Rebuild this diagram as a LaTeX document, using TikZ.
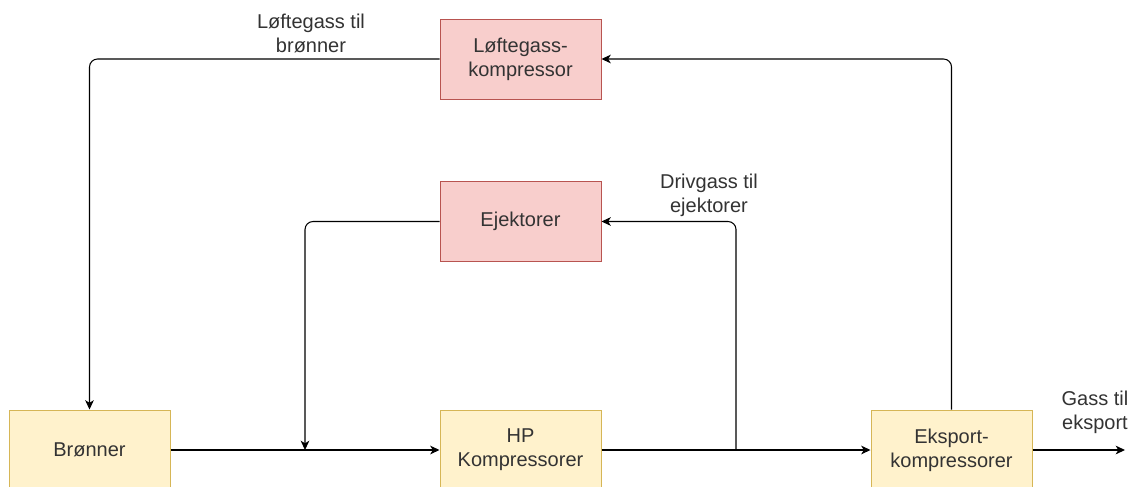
\documentclass[tikz,border=0pt]{standalone}
\usepackage{fontspec}
\setmainfont{Liberation Sans}
\usetikzlibrary{arrows.meta}
\definecolor{yfill}{HTML}{FFF2CC}
\definecolor{ystroke}{HTML}{D6B656}
\definecolor{rfill}{HTML}{F8CECC}
\definecolor{rstroke}{HTML}{B85450}
\definecolor{txt}{HTML}{333333}
\tikzset{
  box/.style={draw, line width=0.75pt, minimum width=120.75pt, minimum height=60pt,
    inner sep=0pt, align=center, text=txt,
    font=\fontsize{15pt}{18pt}\selectfont},
  ybox/.style={box, fill=yfill, draw=ystroke},
  rbox/.style={box, fill=rfill, draw=rstroke},
  lbl/.style={align=center, text=txt, inner sep=0pt,
    font=\fontsize{15pt}{18pt}\selectfont},
  arr/.style={draw=black, line width=0.8pt, rounded corners=6pt,
    -{Stealth[length=7pt,width=6.5pt,inset=2pt]}},
  ln/.style={draw=black, line width=0.8pt, rounded corners=6pt}
}
\begin{document}
\begin{tikzpicture}[x=0.75pt,y=-0.75pt]
\useasboundingbox[fill=white] (0,0) rectangle (1131,486);
\node[rbox] (lk) at (520.5,59) {Løftegass-\\kompressor};
\node[rbox] (ej) at (520.5,221.5) {Ejektorer};
\node[ybox] (br) at (89.5,450) {Brønner};
\node[ybox] (hp) at (520.5,450) {HP\\Kompressorer};
\node[ybox] (ek) at (951.5,450) {Eksport-\\kompressorer};
\coordinate (j1) at (305,450);
\coordinate (j2) at (736,450);
\coordinate (out) at (1125,450);
\draw[arr] (br.east) -- (hp.west);
\draw[arr] (hp.east) -- (ek.west);
\draw[arr] (ek.east) -- (out);
\draw[arr] (lk.west) -| (br.north);
\draw[arr] (ek.north) |- (lk.east);
\draw[arr] (ej.west) -| (j1);
\draw[arr] (j2) |- (ej.east);
\node[lbl] (l1) at (311,33) {Løftegass til\\brønner};
\node[lbl] (l2) at (709,195) {Drivgass til\\ejektorer};
\node[lbl] (l3) at (1095,412) {Gass til\\eksport};
\end{tikzpicture}
\end{document}
